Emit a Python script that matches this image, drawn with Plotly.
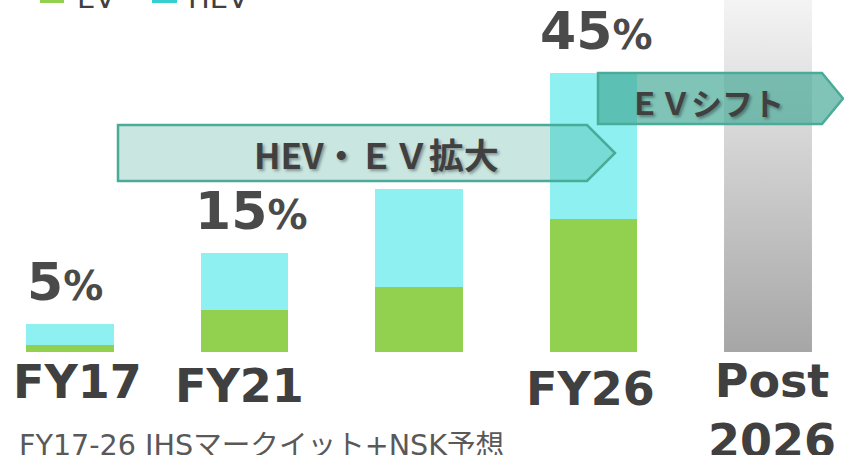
import plotly.graph_objects as go

# ---- data (illustrative shares) ----
categories = ["FY17", "FY21", "", "FY26", "Post<br>2026"]
ev_values = [1.1, 6.8, 10.5, 21.5]
hev_values = [3.4, 9.2, 15.8, 23.5]
post_value = 57.0
pct_labels = ["5", "15", "", "45"]
legend_names = ["EV", "HEV"]
footnote = "FY17-26 IHSマークイット+NSK予想"
arrow1_text = "HEV・ＥＶ拡大"
arrow2_text = "ＥＶシフト"

# ---- styles ----
W, H = 844, 455
BOTTOM = 103
PLOT_H = H - BOTTOM
EV_COLOR = "#92D050"
HEV_COLOR = "#8EF0F0"
HEV_SWATCH = "#36CFCF"
TEXT_DARK = "#404040"
BAR_W = 0.504
X_RANGE = [-70 / 174.5, (W - 70) / 174.5]
Y_RANGE = [0, PLOT_H / 6.2]
PCT_XSHIFT = [-5, 6, 0, 2]
CAT_XSHIFT = [7, -5, 0, -3, 4]
CAT_TOP = [363, 367, 0, 370, 362]

def px(x):
    return x / W

def py(y):
    return (PLOT_H - y) / PLOT_H

xs = list(range(len(categories)))
fig = go.Figure()

fig.add_trace(go.Bar(x=xs[:4], y=ev_values, name=legend_names[0],
                     marker=dict(color=EV_COLOR, line=dict(width=0)), width=BAR_W))
fig.add_trace(go.Bar(x=xs[:4], y=hev_values, name=legend_names[1],
                     marker=dict(color=HEV_COLOR, line=dict(width=0)), width=BAR_W))

# Post 2026 gradient column
xc = xs[4]
fig.add_trace(go.Scatter(
    x=[xc - BAR_W / 2, xc + BAR_W / 2, xc + BAR_W / 2, xc - BAR_W / 2, xc - BAR_W / 2],
    y=[0, 0, post_value, post_value, 0],
    mode="none", fill="toself",
    fillgradient=dict(type="vertical",
                      colorscale=[[0, "#A6A6A6"], [1, "#F4F4F4"]]),
    hoverinfo="skip", showlegend=False))

# percentage labels
for i, lab in enumerate(pct_labels):
    if not lab:
        continue
    fig.add_annotation(
        x=xs[i], y=ev_values[i] + hev_values[i], xref="x", yref="y",
        text=f"{lab}<span style='font-size:40px'>%</span>",
        showarrow=False, xanchor="center", yanchor="bottom", yshift=10,
        xshift=PCT_XSHIFT[i],
        font=dict(family="DejaVu Sans", size=52, color="#4A4A4A", weight="bold"))

# category labels
for i, cat in enumerate(categories):
    if not cat:
        continue
    fig.add_annotation(
        x=xs[i], y=py(CAT_TOP[i] - 10), xref="x", yref="paper",
        text=cat, showarrow=False, xanchor="center", yanchor="top",
        xshift=CAT_XSHIFT[i],
        font=dict(family="DejaVu Sans", size=46, color=TEXT_DARK, weight="bold"))

# arrows
def arrow_path(x0, x1, xt, y0, y1):
    ym = (y0 + y1) / 2
    return (f"M{px(x0)},{py(y0)} L{px(x1)},{py(y0)} L{px(xt)},{py(ym)} "
            f"L{px(x1)},{py(y1)} L{px(x0)},{py(y1)} Z")

fig.add_shape(type="path", xref="paper", yref="paper",
              path=arrow_path(118, 587, 615, 125, 181),
              fillcolor="rgba(71,170,152,0.29)",
              line=dict(color="#4AAB98", width=2.5), layer="above")
fig.add_shape(type="path", xref="paper", yref="paper",
              path=arrow_path(598, 822, 843, 73, 124),
              fillcolor="rgba(71,170,152,0.69)",
              line=dict(color="#4AAB98", width=2.5), layer="above")

shadow = "2px 2px 3px rgba(0,0,0,0.35)"
fig.add_annotation(x=px(376), y=py(153), xref="paper", yref="paper",
                   text=arrow1_text, showarrow=False, xanchor="center", yanchor="middle",
                   font=dict(family="Noto Sans CJK JP", size=35, color=TEXT_DARK,
                             weight="bold", shadow=shadow))
fig.add_annotation(x=px(706), y=py(101), xref="paper", yref="paper",
                   text=arrow2_text, showarrow=False, xanchor="center", yanchor="middle",
                   font=dict(family="Noto Sans CJK JP", size=31, color=TEXT_DARK,
                             weight="bold", shadow=shadow))

# cropped legend at top
for x0, x1, col in [(40, 64, EV_COLOR), (152, 177, HEV_SWATCH)]:
    fig.add_shape(type="rect", xref="paper", yref="paper",
                  x0=px(x0), x1=px(x1), y0=py(3), y1=py(-12),
                  fillcolor=col, line=dict(width=0))
for xl, name in [(75, legend_names[0]), (186, legend_names[1])]:
    fig.add_annotation(x=px(xl), y=py(5), xref="paper", yref="paper",
                       text=name, showarrow=False, xanchor="left", yanchor="bottom",
                       yshift=-12,
                       font=dict(family="DejaVu Sans", size=29, color=TEXT_DARK))

# footnote
fig.add_annotation(x=px(17), y=py(455), xref="paper", yref="paper",
                   text=footnote, showarrow=False, xanchor="left", yanchor="bottom",
                   yshift=-9,
                   font=dict(family="DejaVu Sans, Noto Sans CJK JP", size=28.6, color="#595959"))

fig.update_layout(
    width=W, height=H,
    margin=dict(l=0, r=0, t=0, b=BOTTOM, autoexpand=False),
    paper_bgcolor="white", plot_bgcolor="white",
    barmode="stack", showlegend=False,
    xaxis=dict(range=X_RANGE, tickmode="array", tickvals=xs, showticklabels=False,
               showgrid=False, zeroline=False, showline=False, ticks=""),
    yaxis=dict(range=Y_RANGE, visible=False, showgrid=False, zeroline=False),
)

fig.write_html("out.html", config={"displayModeBar": False},
               post_script="document.body.style.margin='0';")
